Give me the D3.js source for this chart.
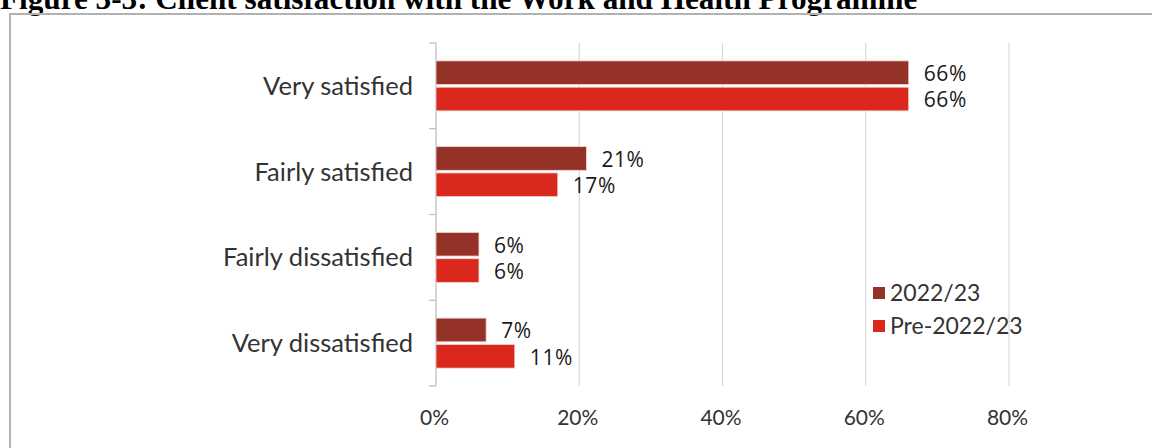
<!DOCTYPE html>
<html>
<head>
<meta charset="utf-8">
<script src="https://cdn.jsdelivr.net/npm/d3@7"></script>
<style>
  html, body { margin: 0; padding: 0; background: #ffffff; }
  svg { display: block; }
</style>
</head>
<body>
<svg id="chart" width="1152" height="448"></svg>
<script>
// Survey categories, top to bottom
const categories = ["Very satisfied", "Fairly satisfied", "Fairly dissatisfied", "Very dissatisfied"];
// Series names (legend order)
const seriesNames = ["2022/23", "Pre-2022/23"];
// Percentages for each series, in category order
const values2022 = [66, 21, 6, 7];
const valuesPre = [66, 17, 6, 11];
// Value-axis ticks
const xTicks = [0, 20, 40, 60, 80];

const colors = { "2022/23": "#953227", "Pre-2022/23": "#da291c" };

const data = categories.map((c, i) => ({
  category: c,
  bars: [
    { series: seriesNames[0], value: values2022[i] },
    { series: seriesNames[1], value: valuesPre[i] }
  ]
}));

const svg = d3.select("#chart");
const catFont = "'Lato', 'DejaVu Sans', sans-serif";

// Scale a text's font size so its rendered width equals the given width
function fitWidth(sel, width) {
  const node = sel.node();
  const size = parseFloat(sel.attr("font-size"));
  const w = node.getComputedTextLength();
  if (w > 0) sel.attr("font-size", size * width / w);
  return sel;
}

// Figure title (sits partly above the visible area)
const title = svg.append("text")
  .attr("x", 0)
  .attr("y", 9)
  .attr("font-family", "'Liberation Serif', 'DejaVu Serif', serif")
  .attr("font-weight", "bold")
  .attr("font-size", 24)
  .attr("fill", "#000")
  .text("Figure 3-3: Client satisfaction with the Work and Health Programme");
fitWidth(title, 918);

// Frame around the chart
svg.append("rect")
  .attr("x", 10)
  .attr("y", 14)
  .attr("width", 1200)
  .attr("height", 500)
  .attr("fill", "none")
  .attr("stroke", "#b2b2b2")
  .attr("stroke-width", 2);

const plot = { left: 436, right: 1009, top: 43, bottom: 386 };

const x = d3.scaleLinear().domain([0, 80]).range([plot.left, plot.right]);
const y = d3.scaleBand().domain(categories).range([plot.top, plot.bottom]).paddingInner(0.417).paddingOuter(0.2085);
const ySeries = d3.scaleBand().domain(seriesNames).range([0, y.bandwidth()]).paddingInner(0.1);

// Vertical gridlines
svg.append("g")
  .selectAll("line")
  .data(xTicks.filter(t => t > 0))
  .join("line")
  .attr("x1", d => x(d)).attr("x2", d => x(d))
  .attr("y1", plot.top).attr("y2", plot.bottom)
  .attr("stroke", "#d9d9d9")
  .attr("stroke-width", 1.2);

// Value axis labels
const xAxis = d3.axisBottom(x).tickValues(xTicks).tickFormat(d => d + "%").tickSize(0).tickPadding(0);
const xg = svg.append("g").attr("transform", `translate(0,${plot.bottom})`).call(xAxis);
xg.select(".domain").remove();
xg.selectAll("text")
  .attr("x", -2)
  .attr("y", 32)
  .attr("dy", "0.35em")
  .attr("font-family", catFont)
  .attr("font-size", 21)
  .attr("fill", "#333");

// Category axis with outward ticks at band boundaries
const catAxis = svg.append("g");
catAxis.append("line")
  .attr("x1", plot.left).attr("x2", plot.left)
  .attr("y1", plot.top).attr("y2", plot.bottom)
  .attr("stroke", "#bfbfbf").attr("stroke-width", 1.3);
const boundaries = d3.range(categories.length + 1).map(i => plot.top + i * y.step());
catAxis.selectAll("line.tick")
  .data(boundaries)
  .join("line")
  .attr("class", "tick")
  .attr("x1", plot.left - 7).attr("x2", plot.left)
  .attr("y1", d => d).attr("y2", d => d)
  .attr("stroke", "#bfbfbf").attr("stroke-width", 1.3);
const catLabels = catAxis.selectAll("text")
  .data(categories)
  .join("text")
  .attr("x", 413)
  .attr("y", d => y(d) + y.bandwidth() / 2)
  .attr("dy", "0.35em")
  .attr("text-anchor", "end")
  .attr("font-family", catFont)
  .attr("font-size", 24)
  .attr("fill", "#333333")
  .text(d => d);
// Size the category labels from the first one's width, shared by all
const firstW = catLabels.node().getComputedTextLength();
if (firstW > 0) catLabels.attr("font-size", 24 * 150 / firstW);

// Bars
const groups = svg.append("g")
  .selectAll("g")
  .data(data)
  .join("g")
  .attr("transform", d => `translate(0,${y(d.category)})`);

groups.selectAll("rect")
  .data(d => d.bars)
  .join("rect")
  .attr("x", x(0))
  .attr("y", d => ySeries(d.series))
  .attr("width", d => x(d.value) - x(0))
  .attr("height", ySeries.bandwidth())
  .attr("fill", d => colors[d.series])
  .attr("stroke", "#f3d6d2")
  .attr("stroke-width", 0.8);

// Value labels
groups.selectAll("text")
  .data(d => d.bars)
  .join("text")
  .attr("x", d => x(d.value) + 15)
  .attr("y", d => ySeries(d.series) + ySeries.bandwidth() / 2 + 1)
  .attr("dy", "0.35em")
  .attr("font-family", "'Open Sans', 'Lato', sans-serif")
  .attr("font-size", 21)
  .attr("letter-spacing", 0.6)
  .attr("fill", "#1a1a1a")
  .text(d => d.value + "%");

// Legend
const legend = svg.append("g")
  .selectAll("g")
  .data(seriesNames)
  .join("g")
  .attr("transform", (d, i) => `translate(873,${293 + i * 33})`);
legend.append("rect")
  .attr("x", 0).attr("y", -6)
  .attr("width", 12).attr("height", 12)
  .attr("fill", d => colors[d]);
legend.append("text")
  .attr("x", 17)
  .attr("y", 0)
  .attr("dy", "0.35em")
  .attr("font-family", catFont)
  .attr("font-size", 23)
  .attr("fill", "#333333")
  .text(d => d);
</script>
</body>
</html>
